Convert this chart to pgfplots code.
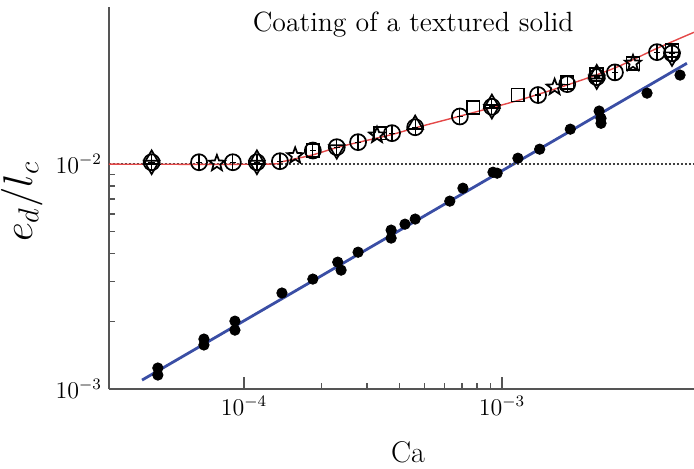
\documentclass[border=0pt]{standalone}
\usepackage{pgfplots}
\pgfplotsset{compat=1.18}
\definecolor{fitred}{RGB}{228,72,72}
\definecolor{fitblue}{RGB}{58,78,165}
\definecolor{axgray}{RGB}{85,85,85}

% outlined five-pointed star
\pgfdeclareplotmark{ostar}{%
  \pgfpathmoveto{\pgfpointpolar{90}{\pgfplotmarksize}}%
  \pgfpathlineto{\pgfpointpolar{126}{0.42\pgfplotmarksize}}%
  \pgfpathlineto{\pgfpointpolar{162}{\pgfplotmarksize}}%
  \pgfpathlineto{\pgfpointpolar{198}{0.42\pgfplotmarksize}}%
  \pgfpathlineto{\pgfpointpolar{234}{\pgfplotmarksize}}%
  \pgfpathlineto{\pgfpointpolar{270}{0.42\pgfplotmarksize}}%
  \pgfpathlineto{\pgfpointpolar{306}{\pgfplotmarksize}}%
  \pgfpathlineto{\pgfpointpolar{342}{0.42\pgfplotmarksize}}%
  \pgfpathlineto{\pgfpointpolar{18}{\pgfplotmarksize}}%
  \pgfpathlineto{\pgfpointpolar{54}{0.42\pgfplotmarksize}}%
  \pgfpathclose
  \pgfusepathqstroke
}

\begin{document}
\begin{tikzpicture}
\path[use as bounding box] (-54.5pt,-39.5pt) rectangle (292.5pt,194.5pt);
\begin{axis}[
    at={(0,0)}, anchor=south west,
    scale only axis, width=292.5pt, height=191pt,
    xmode=log, ymode=log,
    xmin=3.0e-5, xmax=5.55e-3, ymin=1e-3, ymax=0.05,
    axis x line*=bottom, axis y line*=left,
    axis line style={axgray, line width=1pt, -},
    tick align=inside,
    major tick length=6pt, minor tick length=3pt,
    tick style={axgray, line width=0.6pt},
    xtick={1e-4,1e-3}, ytick={1e-3,1e-2},
    ticklabel style={font=\fontsize{12}{14}\selectfont},
    xlabel={Ca},
    xlabel style={font=\fontsize{15}{18}\selectfont, at={(axis description cs:0.511,-0.166)}, anchor=center},
    ylabel={$e_d/l_c$},
    ylabel style={font=\fontsize{20}{24}\selectfont, at={(axis description cs:-0.149,0.49)}, anchor=center},
    clip=false,
]
% fits
\addplot[fitblue, line width=1.4pt] coordinates {(4.03e-5,1.096e-3) (5.21e-3,0.0281)};
\addplot[black!75, line width=0.8pt, dash pattern=on 1.2pt off 0.8pt] coordinates {(3.0e-5,0.01) (5.55e-3,0.01)};
\addplot[fitred, line width=0.7pt, smooth] coordinates {
    (3.0e-5,0.0100) (1.2e-4,0.0100) (1.4e-4,0.01025) (1.6e-4,0.0106)
    (1.85e-4,0.0110) (2.29e-4,0.01185) (2.77e-4,0.0125) (3.75e-4,0.01355)
    (4.61e-4,0.0145) (7.0e-4,0.01645) (1.153e-3,0.0192) (1.79e-3,0.0225)
    (2.74e-3,0.0268) (4.0e-3,0.0328) (5.55e-3,0.0386)
};
% smooth solid
\addplot[only marks, mark=*, mark size=2.6pt, black] coordinates {
    (4.64e-5,1.240e-3) (4.64e-5,1.154e-3) (7.00e-5,1.668e-3) (7.00e-5,1.570e-3)
    (9.23e-5,2.004e-3) (9.23e-5,1.828e-3) (1.404e-4,2.673e-3) (1.85e-4,3.083e-3)
    (2.31e-4,3.667e-3) (2.38e-4,3.379e-3) (2.77e-4,4.06e-3) (3.72e-4,5.09e-3)
    (3.72e-4,4.69e-3) (4.21e-4,5.41e-3) (4.61e-4,5.70e-3) (6.28e-4,6.85e-3)
    (7.06e-4,7.82e-3) (9.23e-4,9.21e-3) (9.58e-4,9.12e-3) (1.153e-3,1.063e-2)
    (1.40e-3,1.166e-2) (1.84e-3,1.431e-2) (2.38e-3,1.723e-2) (2.42e-3,1.60e-2)
    (2.42e-3,1.52e-2) (3.65e-3,2.07e-2) (4.90e-3,2.49e-2)
};
% textured solid
\addplot[only marks, mark=o, mark size=4pt, black, line width=0.85pt,
    error bars/.cd, y dir=both, y explicit relative,
    error bar style={line width=0.6pt}, error mark options={mark size=1.5pt, line width=0.6pt}]
coordinates {
    (4.39e-5,1.02e-2) +- (0,0.05) (6.70e-5,1.02e-2) +- (0,0.05)
    (9.06e-5,1.02e-2) +- (0,0.05) (1.123e-4,1.02e-2) +- (0,0.05)
    (1.379e-4,1.031e-2) +- (0,0.05) (1.85e-4,1.15e-2) +- (0,0.05)
    (2.29e-4,1.19e-2) +- (0,0.05) (2.77e-4,1.253e-2) +- (0,0.05)
    (3.75e-4,1.374e-2) +- (0,0.05) (4.61e-4,1.46e-2) +- (0,0.05)
    (6.87e-4,1.63e-2) +- (0,0.05) (9.14e-4,1.80e-2) +- (0,0.05)
    (1.38e-3,2.03e-2) +- (0,0.05) (1.79e-3,2.27e-2) +- (0,0.05)
    (2.33e-3,2.44e-2) +- (0,0.05) (2.74e-3,2.56e-2) +- (0,0.05)
    (3.99e-3,3.15e-2) +- (0,0.05) (4.56e-3,3.11e-2) +- (0,0.05)
};
\addplot[only marks, mark=-, mark size=1.6pt, black, line width=0.6pt] coordinates {
    (4.39e-5,1.02e-2) (6.70e-5,1.02e-2) (9.06e-5,1.02e-2) (1.123e-4,1.02e-2)
    (1.379e-4,1.031e-2) (1.85e-4,1.15e-2) (2.29e-4,1.19e-2) (2.77e-4,1.253e-2)
    (3.75e-4,1.374e-2) (4.61e-4,1.46e-2) (6.87e-4,1.63e-2) (9.14e-4,1.80e-2)
    (1.38e-3,2.03e-2) (1.79e-3,2.27e-2) (2.33e-3,2.44e-2) (2.74e-3,2.56e-2)
    (3.99e-3,3.15e-2) (4.56e-3,3.11e-2)
};
\addplot[only marks, mark=ostar, mark size=4.2pt, black, line width=0.85pt] coordinates {
    (7.86e-5,1.009e-2) (1.58e-4,1.09e-2) (3.28e-4,1.346e-2)
    (1.60e-3,2.20e-2) (3.22e-3,2.81e-2)
};
\addplot[only marks, mark=square, mark size=3.2pt, black, line width=0.85pt] coordinates {
    (1.85e-4,1.153e-2) (3.37e-4,1.374e-2) (7.73e-4,1.79e-2) (1.153e-3,2.03e-2)
    (1.79e-3,2.31e-2) (2.33e-3,2.50e-2) (3.22e-3,2.81e-2) (4.56e-3,3.21e-2)
};
\addplot[only marks, mark=triangle, mark size=4.5pt, black, line width=0.85pt] coordinates {
    (4.39e-5,1.05e-2) (1.123e-4,1.05e-2) (4.61e-4,1.50e-2)
    (9.14e-4,1.86e-2) (2.33e-3,2.52e-2)
};
\addplot[only marks, mark=triangle, mark size=4.5pt, black, line width=0.85pt,
    mark options={rotate=180}] coordinates {
    (4.39e-5,0.99e-2) (1.123e-4,0.99e-2) (2.29e-4,1.16e-2)
    (9.14e-4,1.75e-2) (2.33e-3,2.37e-2) (4.56e-3,3.0e-2)
};
\node[anchor=base, font=\fontsize{13.9}{16}\selectfont] at (axis description cs:0.52,0.935) {Coating of a textured solid};
\end{axis}
\end{tikzpicture}
\end{document}
